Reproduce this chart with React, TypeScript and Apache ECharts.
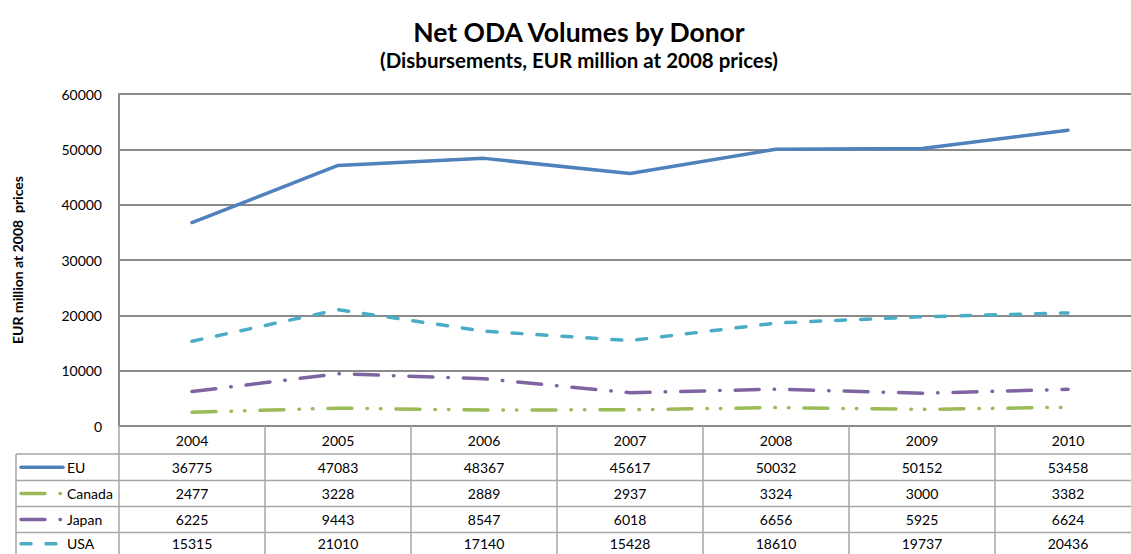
import React, { useEffect, useRef } from "react";
import * as echarts from "echarts";

const years = ["2004", "2005", "2006", "2007", "2008", "2009", "2010"];
const euValues = [36775, 47083, 48367, 45617, 50032, 50152, 53458];
const canadaValues = [2477, 3228, 2889, 2937, 3324, 3000, 3382];
const japanValues = [6225, 9443, 8547, 6018, 6656, 5925, 6624];
const usaValues = [15315, 21010, 17140, 15428, 18610, 19737, 20436];
const seriesNames = ["EU", "Canada", "Japan", "USA"];
const seriesColors = ["#4F81BD", "#9BBB59", "#8064A2", "#4BACC6"];
const seriesDash: any[] = ["solid", [24, 15, 0.5, 13, 0.5, 15], [24, 15, 0.5, 15], [10, 15]];

const FONT = "Lato, 'Open Sans', sans-serif";

export default function App() {
  const ref = useRef<HTMLDivElement>(null);
  useEffect(() => {
    document.body.style.margin = "0";
    const chart = echarts.init(ref.current!, null, { renderer: "svg" });
    const allData = [euValues, canadaValues, japanValues, usaValues];
    const gridLeft = 119;
    const gridTop = 94;
    const gridW = 1022;
    const gridH = 332;
    const tableBottom = 560;
    chart.setOption({
      animation: false,
      textStyle: { fontFamily: FONT },
      title: {
        text: "Net ODA Volumes by Donor",
        subtext: "(Disbursements, EUR million at 2008 prices)",
        left: 574,
        textAlign: "center",
        top: 13,
        itemGap: 4,
        textStyle: { fontFamily: FONT, fontSize: 26.5, fontWeight: "bold", color: "#000" },
        subtextStyle: { fontFamily: FONT, fontSize: 20.5, fontWeight: "bold", color: "#000" },
      },
      grid: { left: gridLeft, top: gridTop, width: gridW, height: gridH, containLabel: false },
      xAxis: {
        type: "category",
        data: years,
        boundaryGap: true,
        axisLine: { show: true, lineStyle: { color: "#8a8a8a", width: 2 } },
        axisTick: { show: true, length: tableBottom - (gridTop + gridH), lineStyle: { color: "#a6a6a6", width: 1.5 } },
        axisLabel: { color: "#000", fontSize: 14, margin: 7, fontFamily: FONT },
      },
      yAxis: {
        type: "value",
        min: 0,
        max: 60000,
        interval: 10000,
        name: "EUR million at 2008  prices",
        nameLocation: "middle",
        nameGap: 95,
        nameTextStyle: { fontSize: 14, fontWeight: "bold", color: "#000", fontFamily: FONT },
        axisLine: { show: true, lineStyle: { color: "#8a8a8a", width: 2 } },
        axisTick: { show: false },
        axisLabel: { color: "#000", fontSize: 14, margin: 17, fontFamily: FONT, formatter: (v: number) => String(v) },
        splitLine: { show: true, lineStyle: { color: "#8a8a8a", width: 2 } },
      },
      series: allData.map((d, i) => ({
        name: seriesNames[i],
        type: "line",
        data: d,
        symbol: "none",
        smooth: false,
        lineStyle: { color: seriesColors[i], width: 3.5, type: seriesDash[i], cap: "round" },
        itemStyle: { color: seriesColors[i] },
      })),
    });

    const rowYs = [454, 480.5, 506.5, 532.5, 555];
    const graphics: any[] = [];
    const lineColor = "#a6a6a6";
    for (let r = 0; r < 4; r++) {
      graphics.push({
        type: "line",
        shape: { x1: 16, y1: rowYs[r], x2: gridLeft + gridW, y2: rowYs[r] },
        style: { stroke: lineColor, lineWidth: 1.5 },
      });
    }
    graphics.push({
      type: "line",
      shape: { x1: 16, y1: rowYs[0], x2: 16, y2: tableBottom },
      style: { stroke: lineColor, lineWidth: 1.5 },
    });
    for (let r = 0; r < 4; r++) {
      const cy = (rowYs[r] + rowYs[r + 1]) / 2;
      graphics.push({
        type: "line",
        shape: { x1: 21, y1: cy, x2: 63, y2: cy },
        style: {
          stroke: seriesColors[r],
          lineWidth: 3.5,
          lineCap: "round",
          lineDash: seriesDash[r] === "solid" ? null : seriesDash[r],
        },
      });
      graphics.push({
        type: "text",
        x: 67,
        y: cy,
        style: { text: seriesNames[r], fontSize: 14, fontFamily: FONT, fill: "#000", textVerticalAlign: "middle" },
      });
      allData[r].forEach((v, c) => {
        const px = chart.convertToPixel({ xAxisIndex: 0 }, years[c]) as number;
        graphics.push({
          type: "text",
          x: px,
          y: cy,
          style: {
            text: String(v),
            fontSize: 14,
            fontFamily: FONT,
            fill: "#000",
            textAlign: "center",
            textVerticalAlign: "middle",
          },
        });
      });
    }
    chart.setOption({ graphic: graphics });
    return () => chart.dispose();
  }, []);
  return (
    <div style={{ width: 1131, height: 554, overflow: "hidden" }}>
      <div ref={ref} style={{ width: 1160, height: 554 }} />
    </div>
  );
}
